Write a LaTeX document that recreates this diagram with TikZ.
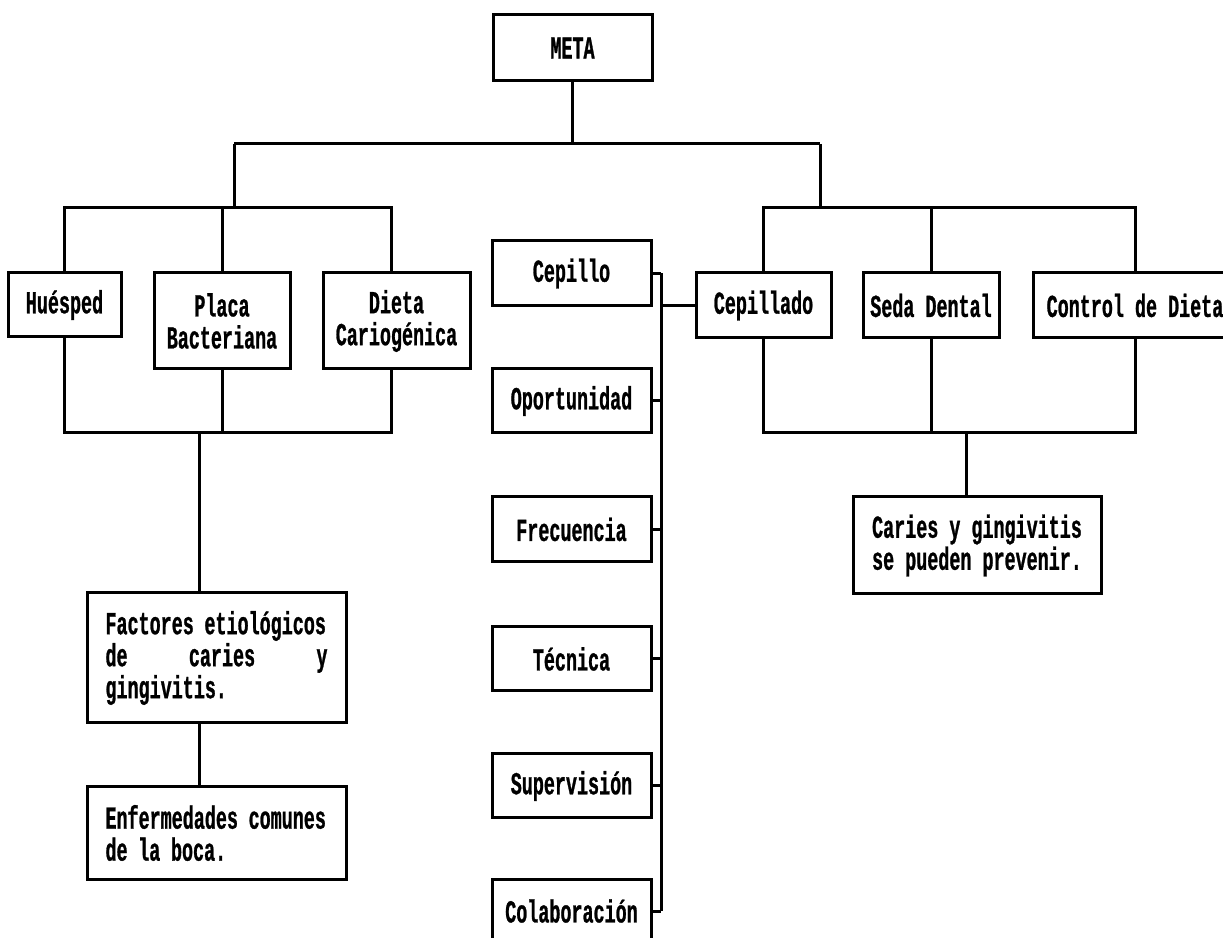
\documentclass[tikz,border=0pt]{standalone}
\usepackage{fontspec}
\usepackage{tikz}
\newfontfamily\printfont[FakeStretch=0.575,FakeBold=0.8]{Liberation Mono Bold}

\begin{document}
\begin{tikzpicture}[x=1pt,y=1pt,
  box/.style={draw=black,line width=3pt,inner sep=0pt,text=black,
    font=\printfont\fontsize{32}{32}\selectfont},
  wire/.style={draw=black,line width=3pt}]
\useasboundingbox (0.000000,0.000000) rectangle (1223.000000,937.000000);
\filldraw[color=white] (0.000000,0.000000) rectangle (1223.000000,937.000000);
% Drawing boxes
% Row 0: goal
\node[box,minimum width=159pt,minimum height=66pt] (meta) at (572.500000,889.000000) {META};
% Row 1: causes
\node[box,minimum width=113pt,minimum height=64pt] (huesped) at (64.500000,632.000000) {Huésped};
\node[box,minimum width=136pt,minimum height=96pt,align=center] (placa) at (222.000000,616.000000) {Placa\\Bacteriana};
\node[box,minimum width=147pt,minimum height=96pt,align=center] (dieta) at (396.500000,616.000000) {Dieta\\Cariogénica};
% Row 1: prevention
\node[box,minimum width=135pt,minimum height=65pt] (cepillado) at (763.500000,631.500000) {Cepillado};
\node[box,minimum width=136pt,minimum height=65pt] (seda) at (931.000000,631.500000) {Seda Dental};
\node[box,minimum width=204pt,minimum height=65pt] (control) at (1135.000000,631.500000) {Control de Dieta};
% Column: brushing
\node[box,minimum width=159pt,minimum height=65pt] (cepillo) at (571.500000,663.500000) {Cepillo};
\node[box,minimum width=159pt,minimum height=64pt] (oportunidad) at (571.500000,536.000000) {Oportunidad};
\node[box,minimum width=159pt,minimum height=65pt] (frecuencia) at (571.500000,407.500000) {Frecuencia};
\node[box,minimum width=159pt,minimum height=64pt] (tecnica) at (571.500000,278.000000) {Técnica};
\node[box,minimum width=159pt,minimum height=64pt] (supervision) at (571.500000,151.000000) {Supervisión};
\node[box,minimum width=159pt,minimum height=64pt] (colaboracion) at (571.500000,26.000000) {Colaboración};
% Results
\node[box,minimum width=259pt,minimum height=130pt,text width=222pt,align=left] (factores) at (216.500000,279.000000) {Factores etiológicos\\de\hfill caries\hfill y\\gingivitis.};
\node[box,minimum width=259pt,minimum height=92pt,text width=222pt,align=left] (enfermedades) at (216.500000,104.000000) {Enfermedades comunes\\de la boca.};
\node[box,minimum width=248pt,minimum height=97pt,align=left] (caries) at (977.000000,391.500000) {Caries y gingivitis\\se pueden prevenir.};
% Done with boxes; drawing connectors
\coordinate (topL) at (234.000000,793.000000);
\coordinate (topR) at (820.000000,793.000000);
\coordinate (lbar) at (234.000000,729.000000);
\coordinate (rbar) at (820.000000,729.000000);
\coordinate (lbot) at (199.000000,504.000000);
\coordinate (rbot) at (966.000000,504.000000);
\coordinate (busTop) at (661.000000,663.500000);
\coordinate (busBot) at (661.000000,26.000000);
% Goal to both branches
\draw[wire] (meta.south) -- (meta.south |- topL);
\draw[wire] (topL) -- (topR);
\draw[wire] (topL) -- (lbar);
\draw[wire] (topR) -- (rbar);
% Left branch
\draw[wire] (huesped.north) |- ([xshift=-5.5pt]dieta.north |- lbar) -- ([xshift=-5.5pt]dieta.north);
\draw[wire] (placa.north) -- (placa.north |- lbar);
\draw[wire] (huesped.south) |- ([xshift=-5.5pt]dieta.south |- lbot) -- ([xshift=-5.5pt]dieta.south);
\draw[wire] (placa.south) -- (placa.south |- lbot);
\draw[wire] (lbot) -- (lbot |- factores.north);
\draw[wire] (factores.south -| lbot) -- (enfermedades.north -| lbot);
% Right branch
\draw[wire] (cepillado.north) |- (control.north |- rbar) -- (control.north);
\draw[wire] (seda.north) -- (seda.north |- rbar);
\draw[wire] (cepillado.south) |- (control.south |- rbot) -- (control.south);
\draw[wire] (seda.south) -- (seda.south |- rbot);
\draw[wire] (rbot) -- (rbot |- caries.north);
% Brushing column
\draw[wire] (busTop) -- (busBot);
\draw[wire] (cepillo.east) -- (cepillo.east -| busTop);
\draw[wire] (oportunidad.east) -- (oportunidad.east -| busTop);
\draw[wire] (frecuencia.east) -- (frecuencia.east -| busTop);
\draw[wire] (tecnica.east) -- (tecnica.east -| busTop);
\draw[wire] (supervision.east) -- (supervision.east -| busTop);
\draw[wire] (colaboracion.east) -- (colaboracion.east -| busTop);
\draw[wire] (cepillado.west) -- (cepillado.west -| busTop);
% Done with connectors
\end{tikzpicture}
\end{document}
